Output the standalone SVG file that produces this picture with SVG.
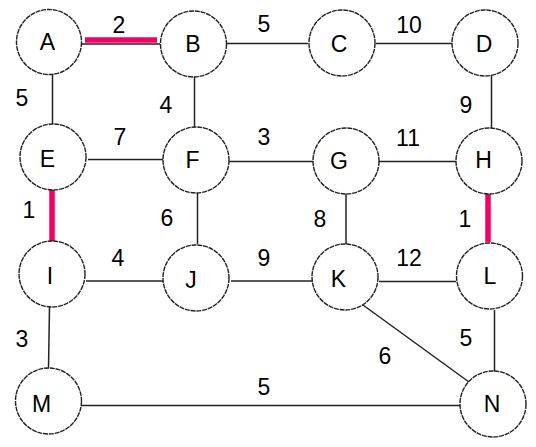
<svg xmlns="http://www.w3.org/2000/svg" width="536" height="447" viewBox="0 0 536 447">
<style>
.n circle{fill:#fff;stroke:#222;stroke-width:1.4;stroke-dasharray:5 0.8}
.n text{font-family:"Liberation Sans",Arial,sans-serif;font-size:23px;fill:#000;text-anchor:middle}
.e line{stroke:#222;stroke-width:1.5}
.e line.hl{stroke:#f50063;stroke-width:5.5}
.w text{font-family:"Liberation Sans",Arial,sans-serif;font-size:23px;fill:#000;text-anchor:middle}
</style>
<rect width="536" height="447" fill="#fff"/>
<g class="e" id="connectors">
<line x1="82" y1="44" x2="160" y2="44"/>
<line class="hl" x1="85" y1="40" x2="157" y2="40"/>
<line x1="227" y1="43.5" x2="308" y2="43.5"/>
<line x1="376" y1="43.5" x2="452" y2="43.5"/>
<line x1="52.5" y1="72" x2="52.5" y2="125"/>
<line x1="194.5" y1="77" x2="194.5" y2="127"/>
<line x1="491.5" y1="75" x2="491.5" y2="128"/>
<line x1="88" y1="159.5" x2="163" y2="159.5"/>
<line x1="229" y1="161.5" x2="313" y2="161.5"/>
<line x1="379" y1="161.5" x2="459" y2="161.5"/>
<line class="hl" x1="52" y1="185" x2="52" y2="242"/>
<line x1="197.5" y1="193" x2="197.5" y2="244"/>
<line x1="346" y1="193" x2="346" y2="244"/>
<line class="hl" x1="488" y1="193" x2="488" y2="242"/>
<line x1="86" y1="281" x2="163" y2="281"/>
<line x1="231" y1="281" x2="313" y2="281"/>
<line x1="379" y1="281.5" x2="456" y2="281.5"/>
<line x1="49.5" y1="307" x2="48.5" y2="368"/>
<line x1="494.5" y1="310" x2="494.5" y2="372"/>
<line x1="363" y1="305" x2="469" y2="382"/>
<line x1="81" y1="405.5" x2="460" y2="405.5"/>
</g>
<g class="w" id="weights">
<text x="119" y="33">2</text>
<text x="264" y="32">5</text>
<text x="409" y="33">10</text>
<text x="22" y="106">5</text>
<text x="166" y="113">4</text>
<text x="466" y="113">9</text>
<text x="120" y="145">7</text>
<text x="264" y="145">3</text>
<text x="408" y="146">11</text>
<text x="29" y="218">1</text>
<text x="167" y="226">6</text>
<text x="320" y="227">8</text>
<text x="465" y="227">1</text>
<text x="118" y="266">4</text>
<text x="264" y="266">9</text>
<text x="409" y="266">12</text>
<text x="22" y="347">3</text>
<text x="466" y="346">5</text>
<text x="385" y="364">6</text>
<text x="264" y="395">5</text>
</g>
<g class="n" id="A"><circle cx="49" cy="42" r="32.5"/><text x="47.5" y="50">A</text></g>
<g class="n" id="B"><circle cx="193.5" cy="44" r="33"/><text x="193" y="51.5">B</text></g>
<g class="n" id="C"><circle cx="342" cy="43" r="33"/><text x="339" y="52">C</text></g>
<g class="n" id="D"><circle cx="485" cy="43" r="33"/><text x="484" y="52">D</text></g>
<g class="n" id="E"><circle cx="53" cy="157" r="33"/><text x="47.5" y="166.5">E</text></g>
<g class="n" id="F"><circle cx="196" cy="160" r="33"/><text x="192.5" y="167.5">F</text></g>
<g class="n" id="G"><circle cx="346" cy="161" r="33"/><text x="339" y="169">G</text></g>
<g class="n" id="H"><circle cx="489" cy="161" r="33"/><text x="483.5" y="168">H</text></g>
<g class="n" id="I"><circle cx="52" cy="274" r="33"/><text x="50" y="284">I</text></g>
<g class="n" id="J"><circle cx="196" cy="278" r="33"/><text x="191" y="288">J</text></g>
<g class="n" id="K"><circle cx="345" cy="277" r="33"/><text x="338.5" y="286.5">K</text></g>
<g class="n" id="L"><circle cx="489.5" cy="276" r="33"/><text x="490" y="284">L</text></g>
<g class="n" id="M"><circle cx="48.5" cy="401" r="33"/><text x="41.5" y="411.5">M</text></g>
<g class="n" id="N"><circle cx="493" cy="404" r="33"/><text x="492" y="411.5">N</text></g>
</svg>
